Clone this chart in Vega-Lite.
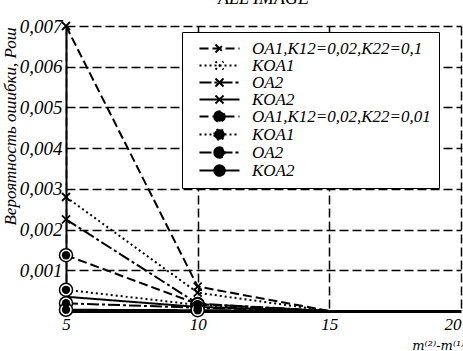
{
  "$schema": "https://vega.github.io/schema/vega-lite/v6.json",
  "width": 395,
  "height": 285,
  "autosize": {"type": "none"},
  "padding": {"left": 66, "top": 26, "right": 2, "bottom": 40},
  "background": "white",
  "title": {"text": "ALL IMAGE", "font": "Liberation Serif", "fontStyle": "italic", "fontWeight": "normal", "fontSize": 18, "color": "black", "offset": -5, "baseline": "alphabetic", "frame": "group"},
  "config": {
    "view": {"stroke": null},
    "axis": {"labelFont": "Liberation Serif", "labelFontStyle": "italic", "labelFontSize": 19, "labelColor": "black", "titleFont": "Liberation Serif", "titleFontStyle": "italic", "titleFontWeight": "normal", "titleFontSize": 17, "titleColor": "black", "grid": true, "gridColor": "black", "gridDash": [9, 4], "gridWidth": 1.5, "gridOpacity": 1, "ticks": false, "domainColor": "black"},
    "legend": {"labelFont": "Liberation Serif", "labelFontStyle": "italic", "labelFontSize": 17, "labelColor": "black"}
  },
  "data": {"values": [
    {"s": "1 OA1,K12=0,02,K22=0,1", "m": "x", "x": 5, "y": 0.007},
    {"s": "1 OA1,K12=0,02,K22=0,1", "m": "x", "x": 10, "y": 0.0006},
    {"s": "1 OA1,K12=0,02,K22=0,1", "m": "x", "x": 15, "y": 0},
    {"s": "1 OA1,K12=0,02,K22=0,1", "m": "x", "x": 20, "y": 0},
    {"s": "2 KOA1", "m": "x", "x": 5, "y": 0.0028},
    {"s": "2 KOA1", "m": "x", "x": 10, "y": 0.00045},
    {"s": "2 KOA1", "m": "x", "x": 15, "y": 0},
    {"s": "2 KOA1", "m": "x", "x": 20, "y": 0},
    {"s": "3 OA2", "m": "x", "x": 5, "y": 0.00225},
    {"s": "3 OA2", "m": "x", "x": 10, "y": 0.00018},
    {"s": "3 OA2", "m": "x", "x": 15, "y": 0},
    {"s": "3 OA2", "m": "x", "x": 20, "y": 0},
    {"s": "4 KOA2", "m": "x", "x": 5, "y": 0.00035},
    {"s": "4 KOA2", "m": "x", "x": 10, "y": 0.0001},
    {"s": "4 KOA2", "m": "x", "x": 15, "y": 0},
    {"s": "4 KOA2", "m": "x", "x": 20, "y": 0},
    {"s": "5 OA1,K12=0,02,K22=0,01", "m": "o", "x": 5, "y": 0.00137},
    {"s": "5 OA1,K12=0,02,K22=0,01", "m": "o", "x": 10, "y": 0.00017},
    {"s": "5 OA1,K12=0,02,K22=0,01", "m": "o", "x": 15, "y": 0},
    {"s": "5 OA1,K12=0,02,K22=0,01", "m": "o", "x": 20, "y": 0},
    {"s": "6 KOA1", "m": "o", "x": 5, "y": 0.00052},
    {"s": "6 KOA1", "m": "o", "x": 10, "y": 0.00015},
    {"s": "6 KOA1", "m": "o", "x": 15, "y": 0},
    {"s": "6 KOA1", "m": "o", "x": 20, "y": 0},
    {"s": "7 OA2", "m": "o", "x": 5, "y": 0.00019},
    {"s": "7 OA2", "m": "o", "x": 10, "y": 0.00008},
    {"s": "7 OA2", "m": "o", "x": 15, "y": 0},
    {"s": "7 OA2", "m": "o", "x": 20, "y": 0},
    {"s": "8 KOA2", "m": "o", "x": 5, "y": 0.00003},
    {"s": "8 KOA2", "m": "o", "x": 10, "y": 0.00002},
    {"s": "8 KOA2", "m": "o", "x": 15, "y": 0},
    {"s": "8 KOA2", "m": "o", "x": 20, "y": 0}
  ]},
  "encoding": {
    "x": {"field": "x", "type": "quantitative", "scale": {"domain": [5, 20], "nice": false, "zero": false},
      "axis": {"values": [5, 10, 15, 20], "title": "m⁽²⁾-m⁽¹⁾", "titleFont": "DejaVu Serif", "titleFontSize": 13, "titleAnchor": "end", "titleX": 398, "titleY": 38, "titleBaseline": "alphabetic", "domainWidth": 3, "labelPadding": 5, "labelFontSize": 17, "labelAlign": {"expr": "datum.value == 20 ? 'right' : 'center'"}}},
    "y": {"field": "y", "type": "quantitative", "scale": {"domain": [0, 0.007], "nice": false},
      "axis": {"values": [0.001, 0.002, 0.003, 0.004, 0.005, 0.006, 0.007], "labelExpr": "replace(format(datum.value, '.3f'), '.', ',')", "title": "Вероятность ошибки, Рош", "titleX": -51, "titleY": 100, "titleAngle": -90, "titleBaseline": "alphabetic", "titleAlign": "center", "domainWidth": 2, "labelPadding": 4}}
  },
  "layer": [
    {
      "mark": {"type": "line", "color": "black", "strokeWidth": 2},
      "encoding": {
        "detail": {"field": "s"},
        "strokeDash": {"field": "s", "type": "nominal",
          "scale": {"domain": ["1 OA1,K12=0,02,K22=0,1", "2 KOA1", "3 OA2", "4 KOA2", "5 OA1,K12=0,02,K22=0,01", "6 KOA1", "7 OA2", "8 KOA2"],
            "range": [[9, 4], [2, 3], [12, 3, 3, 3], [1, 0], [9, 4], [2, 3], [12, 3, 3, 3], [1, 0]]},
          "legend": {"title": null, "orient": "none", "legendX": 116, "legendY": 6, "fillColor": "white", "strokeColor": "black", "padding": 8,
            "labelExpr": "slice(datum.label, 2)", "labelFont": "Liberation Serif", "labelFontStyle": "italic", "labelFontSize": 17, "labelColor": "black", "labelOffset": 24, "symbolOffset": 21, "rowPadding": -4, "symbolSize": 64, "labelLimit": 400,
            "symbolType": "M-5,0L5,0M-1,-1L1,1M-1,1L1,-1", "symbolStrokeWidth": 2, "symbolStrokeColor": "black"}
        }
      }
    },
    {
      "transform": [{"filter": "datum.x > 100"}],
      "mark": {"type": "point", "filled": true, "stroke": "black", "strokeWidth": 1.5, "opacity": 1},
      "encoding": {
        "shape": {"field": "s", "type": "nominal", "legend": null,
          "scale": {"domain": ["1 OA1,K12=0,02,K22=0,1", "2 KOA1", "3 OA2", "4 KOA2", "5 OA1,K12=0,02,K22=0,01", "6 KOA1", "7 OA2", "8 KOA2"],
            "range": ["M-5,0L5,0M-1,-1L1,1M-1,1L1,-1", "M-5,0L5,0M-1,-1L1,1M-1,1L1,-1", "M-5,0L5,0M-1,-1L1,1M-1,1L1,-1", "M-5,0L5,0M-1,-1L1,1M-1,1L1,-1", "M-5,0L5,0M-1.3,0A1.3,1.3 0 1,1 1.3,0A1.3,1.3 0 1,1 -1.3,0Z", "M-5,0L5,0M-1.3,0A1.3,1.3 0 1,1 1.3,0A1.3,1.3 0 1,1 -1.3,0Z", "M-5,0L5,0M-1.3,0A1.3,1.3 0 1,1 1.3,0A1.3,1.3 0 1,1 -1.3,0Z", "M-5,0L5,0M-1.3,0A1.3,1.3 0 1,1 1.3,0A1.3,1.3 0 1,1 -1.3,0Z"]}},
        "fill": {"field": "s", "type": "nominal", "legend": null,
          "scale": {"domain": ["1 OA1,K12=0,02,K22=0,1", "2 KOA1", "3 OA2", "4 KOA2", "5 OA1,K12=0,02,K22=0,01", "6 KOA1", "7 OA2", "8 KOA2"],
            "range": ["transparent", "transparent", "transparent", "transparent", "black", "black", "black", "black"]}}
      }
    },
    {
      "transform": [{"filter": "datum.x <= 10 && datum.m == 'x'"}],
      "mark": {"type": "point", "shape": "M-1,-1L1,1M-1,1L1,-1", "size": 64, "filled": false, "stroke": "black", "strokeWidth": 1.8, "opacity": 1}
    },
    {
      "transform": [{"filter": "datum.x <= 10 && datum.m == 'o'"}],
      "mark": {"type": "point", "shape": "circle", "size": 170, "filled": true, "fill": "white", "stroke": "black", "strokeWidth": 1.5, "opacity": 1}
    },
    {
      "transform": [{"filter": "datum.x <= 10 && datum.m == 'o'"}],
      "mark": {"type": "point", "shape": "circle", "size": 70, "filled": true, "fill": "black", "strokeWidth": 0, "opacity": 1}
    }
  ]
}
